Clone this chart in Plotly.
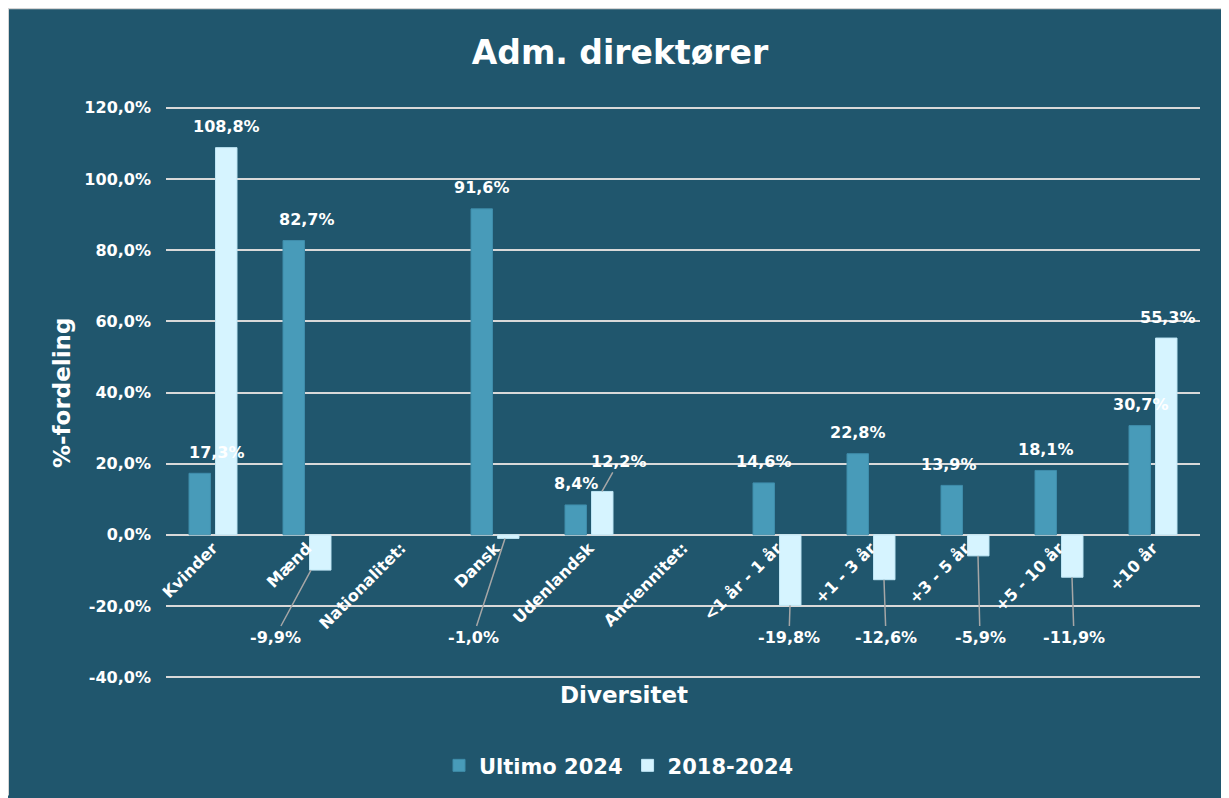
import plotly.graph_objects as go

# ---------------- data ----------------
categories = ["Kvinder", "Mænd", "Nationalitet:", "Dansk", "Udenlandsk", "Anciennitet:",
              "<1 år - 1 år", "+1 - 3 år", "+3 - 5 år", "+5 - 10 år", "+10 år"]
tick_labels = ["Kvinder", "Mænd", "Nationalitet:", "Dansk", "Udenlandsk", "Anciennitet:",
               "&lt;1 år - 1 år", "+1 - 3 år", "+3 - 5 år", "+5 - 10 år", "+10 år"]
ultimo_2024 = [17.3, 82.7, None, 91.6, 8.4, None, 14.6, 22.8, 13.9, 18.1, 30.7]
change_2018_2024 = [108.8, -9.9, None, -1.0, 12.2, None, -19.8, -12.6, -5.9, -11.9, 55.3]
series_names = ["Ultimo 2024", "2018-2024"]
y_ticks = [-40, -20, 0, 20, 40, 60, 80, 100, 120]
y_tick_text = ["-40,0%", "-20,0%", "0,0%", "20,0%", "40,0%", "60,0%", "80,0%", "100,0%", "120,0%"]

# ---------------- style ----------------
BG = "#20566D"
DARK = "#489BB9"
LIGHT = "#D6F4FF"
GRID = "#D9D9D9"
FONT = "DejaVu Sans"
OFF = 8  # page body margin
W, H = 1229 - OFF, 798 - OFF
L, R, T, B = 158, 29, 98, 117

def fmt(v):
    return f"{v:.1f}%".replace(".", ",")

fig = go.Figure()
fig.add_trace(go.Bar(x=categories, y=ultimo_2024, name=series_names[0],
                     marker=dict(color=DARK, line=dict(color="#3F8DAB", width=1))))
fig.add_trace(go.Bar(x=categories, y=change_2018_2024, name=series_names[1],
                     marker=dict(color=LIGHT, line=dict(color="#BFE6F5", width=1))))

lab_font = dict(family=FONT, size=16, color="white", weight="bold")
annotations = []

# labels for dark series (x pixel shift relative to category centre)
dark_xshift = {0: 4, 1: 0, 8: -16, 10: -12}
for i, v in enumerate(ultimo_2024):
    if v is None:
        continue
    annotations.append(dict(x=categories[i], y=v, xref="x", yref="y", text=fmt(v),
                            showarrow=False, yanchor="middle",
                            xshift=dark_xshift.get(i, -13), yshift=21, font=lab_font))

# labels for light series
light_xshift = {10: 15}
leader_ax = {1: -36, 3: -32, 6: -1, 7: 2, 8: 2, 9: 2}
leader_tip = {1: 4, 3: 10}
for i, v in enumerate(change_2018_2024):
    if v is None:
        continue
    if v < 0:
        annotations.append(dict(x=categories[i], y=v, xref="x", yref="y", text=fmt(v),
                                showarrow=True, arrowhead=0, arrowwidth=1.5,
                                arrowcolor="#A6A6A6", standoff=0,
                                xshift=leader_tip.get(i, 13),
                                ax=leader_ax.get(i, 0), ayref="y", ay=-28.7,
                                font=lab_font))
    elif i == 4:
        annotations.append(dict(x=categories[i], y=v, xref="x", yref="y", text=fmt(v),
                                showarrow=True, arrowhead=0, arrowwidth=1.5,
                                arrowcolor="#A6A6A6", standoff=0,
                                xshift=13, ax=17, ay=-30, font=lab_font))
    else:
        annotations.append(dict(x=categories[i], y=v, xref="x", yref="y", text=fmt(v),
                                showarrow=False, yanchor="middle",
                                xshift=light_xshift.get(i, 13), yshift=21, font=lab_font))

plot_w = W - L - R
plot_h = H - T - B
def px_x(p):  # screen pixel -> paper
    return (p - OFF - L) / plot_w
def px_y(p):
    return (H - B - (p - OFF)) / plot_h

# axis titles
annotations.append(dict(text="%-fordeling", xref="paper", yref="paper",
                        x=px_x(62), y=px_y(394), textangle=-90, showarrow=False,
                        xanchor="center", yanchor="middle",
                        font=dict(family=FONT, size=23, color="white", weight="bold")))
annotations.append(dict(text="Diversitet", xref="paper", yref="paper",
                        x=px_x(624), y=px_y(697), showarrow=False,
                        xanchor="center", yanchor="middle",
                        font=dict(family=FONT, size=23, color="white", weight="bold")))

y_range = [-40.5, 120.5]
zero_pos = (0 - y_range[0]) / (y_range[1] - y_range[0])

fig.update_layout(
    width=W, height=H,
    margin=dict(l=L, r=R, t=T, b=B),
    paper_bgcolor=BG,
    plot_bgcolor="rgba(0,0,0,0)",
    separators=",.",
    barmode="group", bargap=0.436, bargroupgap=0.19,
    title=dict(text="Adm. direktører", x=(620 - OFF) / W, y=1 - (52 - OFF) / H,
               xanchor="center", yanchor="middle",
               font=dict(family=FONT, size=33, color="white", weight="bold")),
    showlegend=True,
    legend=dict(orientation="h", x=px_x(619), y=px_y(768), xanchor="center",
                yanchor="middle", bgcolor="rgba(0,0,0,0)",
                font=dict(family=FONT, size=21, color="white", weight="bold")),
    xaxis=dict(type="category", range=[-0.5, len(categories) - 0.5],
               anchor="free", position=zero_pos,
               tickvals=categories, ticktext=tick_labels, tickangle=-45,
               showgrid=False, showline=False, ticks="", zeroline=False,
               tickfont=dict(family=FONT, size=16, color="white", weight="bold")),
    yaxis=dict(range=y_range, tickvals=y_ticks, ticktext=y_tick_text,
               showgrid=True, gridcolor=GRID, gridwidth=2,
               zeroline=True, zerolinecolor=GRID, zerolinewidth=2,
               showline=False, ticks="", ticklabelstandoff=14,
               tickfont=dict(family=FONT, size=16, color="white", weight="bold")),
    annotations=annotations,
    shapes=[
        dict(type="line", xref="paper", yref="paper", layer="above",
             x0=px_x(OFF), x1=px_x(OFF), y0=px_y(OFF), y1=px_y(798),
             line=dict(color="#D4D4D4", width=2)),
        dict(type="line", xref="paper", yref="paper", layer="above",
             x0=px_x(OFF), x1=px_x(1229), y0=px_y(OFF), y1=px_y(OFF),
             line=dict(color="#D4D4D4", width=2)),
    ],
)

fig.write_html("out.html")
